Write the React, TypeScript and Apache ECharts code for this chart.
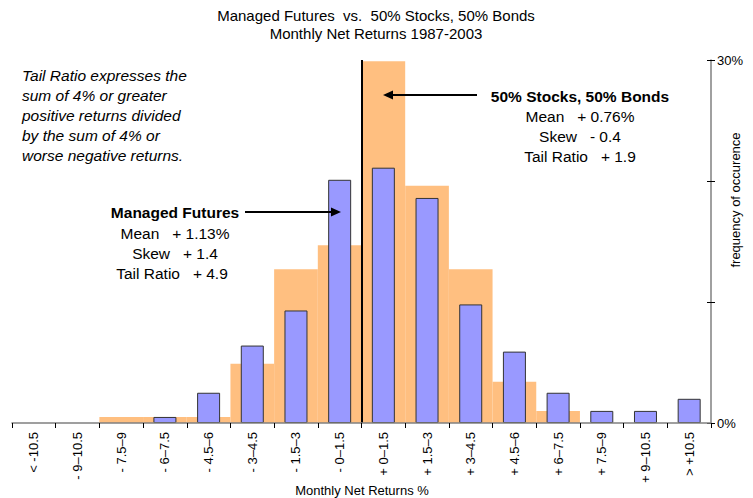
import React, { useEffect, useRef } from "react";
import * as echarts from "echarts";

const categories = [
  "< -10.5", "- 9–10.5", "- 7.5–9", "- 6–7.5", "- 4.5–6", "- 3–4.5", "- 1.5–3", "- 0–1.5",
  "+ 0–1.5", "+ 1.5–3", "+ 3–4.5", "+ 4.5–6", "+ 6–7.5", "+ 7.5–9", "+ 9–10.5", "> +10.5",
];
const managedFutures = [0, 0, 0, 0.5, 2.5, 6.4, 9.3, 20.1, 21.1, 18.6, 9.8, 5.9, 2.5, 1.0, 1.0, 2.0];
const stocksBonds = [0, 0, 0.5, 0.5, 0.5, 4.9, 12.7, 14.7, 29.9, 19.6, 12.7, 3.4, 1.0, 0, 0, 0];
const yTickLabels: Record<number, string> = { 0: "0%", 30: "30%" };
const zeroLine = [8];

const FONT = "'Liberation Sans', Arial, sans-serif";

export default function App() {
  const ref = useRef<HTMLDivElement>(null);
  useEffect(() => {
    if (!ref.current) return;
    const chart = echarts.init(ref.current, null, { renderer: "svg" });
    const txt = (x: number, y: number, text: string, extra: any = {}) => ({
      type: "text",
      x,
      y,
      z: 100,
      style: { text, font: `15.5px ${FONT}`, fill: "#000", textAlign: "center", textVerticalAlign: "middle", ...extra },
    });
    const nz = (arr: number[]) => arr.map((v) => (v === 0 ? null : v));
    chart.setOption({
      animation: false,
      textStyle: { fontFamily: FONT },
      grid: { left: 12, right: 42, top: 60, bottom: 75, containLabel: false, outerBoundsMode: "none" },
      xAxis: [
        {
          type: "category",
          data: categories,
          boundaryGap: true,
          axisLine: { show: true, onZero: false, lineStyle: { color: "#808080", width: 1.5 } },
          axisTick: { show: true, alignWithLabel: false, length: 5, lineStyle: { color: "#000" } },
          axisLabel: { rotate: 90, interval: 0, fontSize: 13, color: "#000", margin: 9, fontFamily: FONT },
          z: 5,
        },
        { type: "category", data: categories, show: false, boundaryGap: true },
        { type: "value", min: 0, max: 16, show: false },
      ],
      yAxis: [
        {
          type: "value",
          position: "right",
          min: 0,
          max: 30,
          interval: 10,
          splitLine: { show: false },
          axisLine: { show: true, onZero: false, lineStyle: { color: "#808080", width: 1.5 } },
          axisTick: { show: true, length: 4, lineStyle: { color: "#000" } },
          axisLabel: {
            fontSize: 13,
            color: "#000",
            margin: 6,
            fontFamily: FONT,
            formatter: (v: number) => yTickLabels[v] ?? "",
          },
        },
        {
          type: "value",
          position: "right",
          min: 0,
          max: 30,
          interval: 10,
          splitLine: { show: false },
          axisLine: { show: false, onZero: false },
          axisTick: { show: true, inside: true, length: 4, lineStyle: { color: "#000" } },
          axisLabel: { show: false },
        },
      ],
      series: [
        {
          name: "50% Stocks, 50% Bonds",
          type: "bar",
          xAxisIndex: 1,
          data: nz(stocksBonds),
          barWidth: "100%",
          itemStyle: { color: "#FFBF80" },
          z: 1,
        },
        {
          name: "Managed Futures",
          type: "bar",
          xAxisIndex: 0,
          data: nz(managedFutures),
          barWidth: 23,
          itemStyle: { color: "#9999FF", borderColor: "#333", borderWidth: 1 },
          z: 3,
        },
        {
          type: "line",
          xAxisIndex: 2,
          data: [],
          markLine: {
            silent: true,
            symbol: "none",
            label: { show: false },
            lineStyle: { color: "#000", width: 2, type: "solid" },
            data: zeroLine.map((v) => ({ xAxis: v })),
          },
          z: 4,
        },
      ],
      graphic: [
        txt(376, 15, "Managed Futures  vs.  50% Stocks, 50% Bonds", { font: `15px ${FONT}` }),
        txt(376, 33, "Monthly Net Returns 1987-2003", { font: `15px ${FONT}` }),
        txt(362, 490, "Monthly Net Returns %", { font: `13px ${FONT}` }),
        {
          type: "text",
          x: 735,
          y: 200,
          z: 100,
          rotation: Math.PI / 2,
          style: { text: "frequency of occurence", font: `13px ${FONT}`, fill: "#000", textAlign: "center", textVerticalAlign: "middle" },
        },
        {
          type: "text",
          x: 22,
          y: 65,
          z: 100,
          style: {
            text: "Tail Ratio expresses the\nsum of 4% or greater\npositive returns divided\nby the sum of 4% or\nworse negative returns.",
            font: `italic 15.5px ${FONT}`,
            lineHeight: 20,
            fill: "#000",
            textAlign: "left",
          },
        },
        txt(175, 212, "Managed Futures", { font: `bold 15.5px ${FONT}` }),
        { type: "line", z: 100, shape: { x1: 245, y1: 212, x2: 333, y2: 212 }, style: { stroke: "#000", lineWidth: 2 } },
        { type: "polygon", z: 100, shape: { points: [[341, 212], [331, 207.5], [331, 216.5]] }, style: { fill: "#000" } },
        txt(175, 233, "Mean   + 1.13%"),
        txt(175, 253, "Skew   + 1.4"),
        txt(172, 273, "Tail Ratio   + 4.9"),
        txt(580, 96, "50% Stocks, 50% Bonds", { font: `bold 15.5px ${FONT}` }),
        { type: "line", z: 100, shape: { x1: 477, y1: 95, x2: 390, y2: 95 }, style: { stroke: "#000", lineWidth: 2 } },
        { type: "polygon", z: 100, shape: { points: [[383, 95], [393, 90.5], [393, 99.5]] }, style: { fill: "#000" } },
        txt(580, 116, "Mean   + 0.76%"),
        txt(580, 136, "Skew   - 0.4"),
        txt(580, 156, "Tail Ratio   + 1.9"),
      ],
    });
    return () => chart.dispose();
  }, []);
  return <div ref={ref} style={{ width: 753, height: 498, position: "absolute", left: 0, top: 0 }} />;
}
